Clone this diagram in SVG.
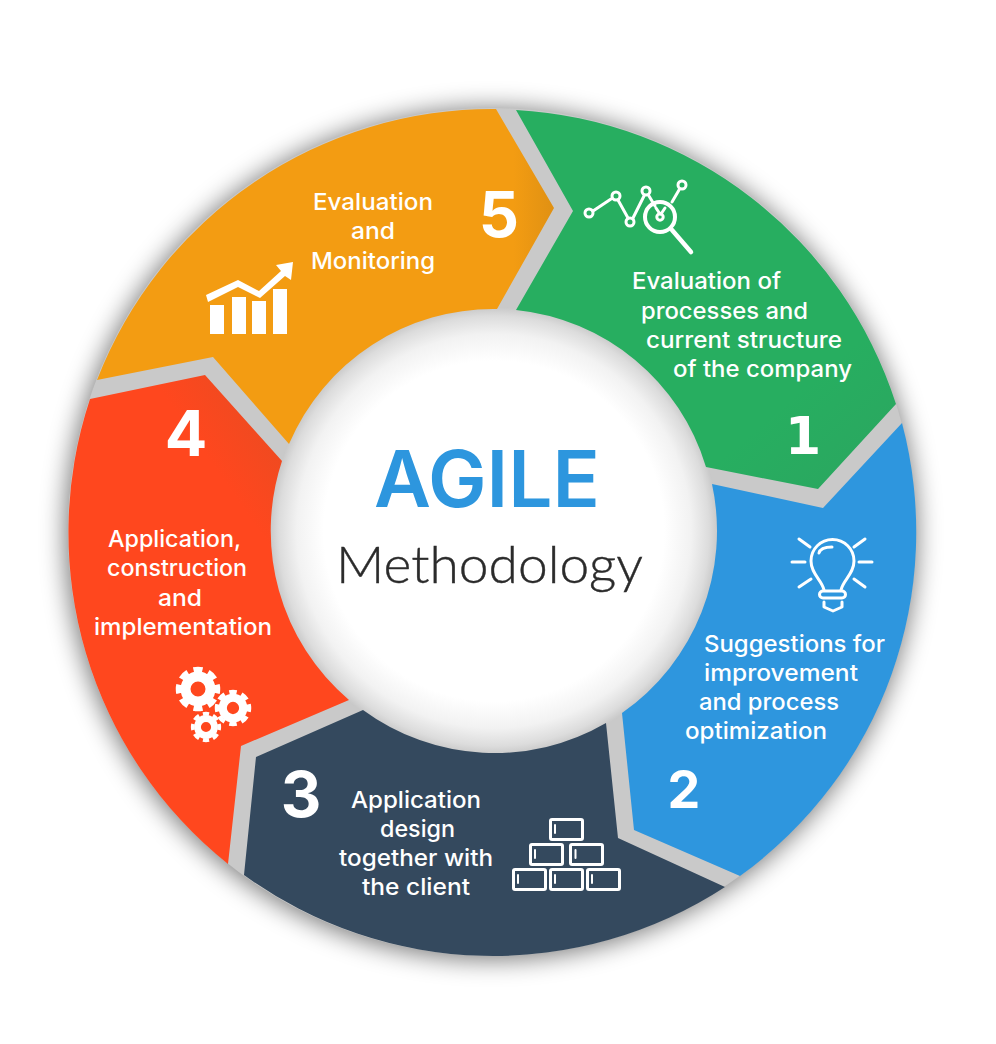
<svg xmlns="http://www.w3.org/2000/svg" xmlns:xlink="http://www.w3.org/1999/xlink" width="996" height="1044" viewBox="0 0 996 1044">
<style>
.t{font-family:"Inter","Open Sans","Liberation Sans",sans-serif;font-size:23px;font-weight:500;fill:#fff}
.n{font-family:"Inter","Liberation Sans",sans-serif;font-weight:700;fill:#fff;text-anchor:middle}
.i{fill:none;stroke:#fff;stroke-width:3;stroke-linecap:round;stroke-linejoin:round}
.b{fill:#fff}
</style>
<defs>
<filter id="sh" x="-15%" y="-15%" width="130%" height="130%"><feGaussianBlur stdDeviation="13"/></filter>
<radialGradient id="hole"><stop offset="0.76" stop-color="#fff"/><stop offset="0.88" stop-color="#f2f2f2"/><stop offset="0.96" stop-color="#dcdcdc"/><stop offset="1" stop-color="#c8c8c8"/></radialGradient>
<linearGradient id="og" gradientUnits="userSpaceOnUse" x1="450" y1="210" x2="556" y2="210"><stop offset="0" stop-color="#f39c12"/><stop offset="0.6" stop-color="#f39c12"/><stop offset="1" stop-color="#df9013"/></linearGradient>
<linearGradient id="gg" gradientUnits="userSpaceOnUse" x1="790" y1="400" x2="850" y2="470"><stop offset="0" stop-color="#27ae60"/><stop offset="1" stop-color="#2aa860"/></linearGradient>
<linearGradient id="rg" gradientUnits="userSpaceOnUse" x1="195" y1="440" x2="245" y2="405"><stop offset="0" stop-color="#ff471e"/><stop offset="1" stop-color="#f04a20"/></linearGradient>
<g id="gear"><circle r="12.5" fill="none" stroke="#fff" stroke-width="10"/><circle r="19.500" fill="none" stroke="#fff" stroke-width="5.500" pathLength="80" stroke-dasharray="6 4" stroke-dashoffset="3"/></g>
</defs>
<g id="backdrop">
<circle cx="491" cy="534" r="425" fill="#000" opacity=".55" filter="url(#sh)"/>
<circle cx="492" cy="532" r="424" fill="#c9c9c9"/>
</g>
<g id="centre">
<circle cx="494" cy="531" r="224" fill="url(#hole)"/>
<text x="374" y="507" font-family="Inter,'Liberation Sans',sans-serif" font-weight="600" font-size="78" fill="#2d96de" textLength="226" lengthAdjust="spacingAndGlyphs">AGILE</text>
<text x="336" y="583" font-family="Lato,'Liberation Sans',sans-serif" font-weight="300" font-size="51" fill="#2b2b2b" stroke="#2b2b2b" stroke-width=".4" textLength="307" lengthAdjust="spacingAndGlyphs">Methodology</text>
</g>
<g id="node-1">
<path fill="url(#gg)" d="M516 110A424 424 0 0 1 896 404L818 489L706 467A222 222 0 0 0 516 310L573 211Z"/>
<g class="i"><path d="M593 211L611 199M618 200L628 218M633 218L644 196M649 196L655 206M672 202L679 190M656 208L660 214M665 208L661 214"/><path d="M672 230L691 252" stroke-width="4.500"/><circle cx="589" cy="213" r="4"/><circle cx="616" cy="196" r="4"/><circle cx="630" cy="222" r="4"/><circle cx="646" cy="191" r="4"/><circle cx="682" cy="185" r="4"/><circle cx="660" cy="217" r="15" stroke-width="4"/><circle cx="660" cy="217" r="3.200"/></g>
<text class="t" x="632" y="289" textLength="149" lengthAdjust="spacingAndGlyphs">Evaluation of</text>
<text class="t" x="641" y="319" textLength="167" lengthAdjust="spacingAndGlyphs">processes and</text>
<text class="t" x="646" y="348" textLength="196" lengthAdjust="spacingAndGlyphs">current structure</text>
<text class="t" x="673" y="377" textLength="179" lengthAdjust="spacingAndGlyphs">of the company</text>
<text class="n" x="803" y="454" font-size="52" style="font-family:'DejaVu Sans',sans-serif">1</text>
</g>
<g id="node-2">
<path fill="#2e96de" d="M902 423A424 424 0 0 1 740 876L634 830L622 713A222 222 0 0 0 712 484L823 508Z"/>
<g class="i"><path d="M824 590C822 580 811 574 811 561A21.500 21.500 0 0 1 854 561C854 574 843 580 841 590M819 553C820 549 825 547 832 547M792 562H805M859 562H872M799 539L810 547M865 539L854 547M799 587L811 579M865 587L854 579M824 602V607L833 611L842 607V602"/><rect x="819.500" y="591" width="26" height="7" rx="3.500"/></g>
<text class="t" x="704" y="652" textLength="181" lengthAdjust="spacingAndGlyphs">Suggestions for</text>
<text class="t" x="704" y="681" textLength="154" lengthAdjust="spacingAndGlyphs">improvement</text>
<text class="t" x="699" y="710" textLength="140" lengthAdjust="spacingAndGlyphs">and process</text>
<text class="t" x="685" y="739" textLength="142" lengthAdjust="spacingAndGlyphs">optimization</text>
<text class="n" x="684" y="808" font-size="52">2</text>
</g>
<g id="node-3">
<path fill="#34495e" d="M725 887A424 424 0 0 1 244 875L256 757L363 710A222 222 0 0 0 606 723L618 838Z"/>
<g class="i"><rect x="550.500" y="819.500" width="32" height="20" rx="1.500"/><rect x="530.500" y="844.500" width="32" height="20" rx="1.500"/><rect x="570.500" y="844.500" width="32" height="20" rx="1.500"/><rect x="513.500" y="869.500" width="32" height="20" rx="1.500"/><rect x="550.500" y="869.500" width="32" height="20" rx="1.500"/><rect x="587.500" y="869.500" width="32" height="20" rx="1.500"/><path d="M555 825V833M535 850V858M575.500 850V858M518 875V883M555 875V883M592 875V883" stroke-width="2"/></g>
<text class="t" x="351" y="808" textLength="130" lengthAdjust="spacingAndGlyphs">Application</text>
<text class="t" x="380" y="837" textLength="75" lengthAdjust="spacingAndGlyphs">design</text>
<text class="t" x="339" y="866" textLength="154" lengthAdjust="spacingAndGlyphs">together with</text>
<text class="t" x="362" y="895" textLength="108" lengthAdjust="spacingAndGlyphs">the client</text>
<text class="n" x="301" y="817" font-size="63">3</text>
</g>
<g id="node-4">
<path fill="url(#rg)" d="M228 864A424 424 0 0 1 90 399L205 375L282 461A222 222 0 0 0 349 700L241 746Z"/>
<use xlink:href="#gear" href="#gear" transform="translate(198 689)"/>
<use xlink:href="#gear" href="#gear" transform="translate(233 708) scale(.82)"/>
<use xlink:href="#gear" href="#gear" transform="translate(206 727) scale(.68)"/>
<text class="t" x="108" y="547" textLength="133" lengthAdjust="spacingAndGlyphs">Application,</text>
<text class="t" x="107" y="576" textLength="140" lengthAdjust="spacingAndGlyphs">construction</text>
<text class="t" x="158" y="606" textLength="44" lengthAdjust="spacingAndGlyphs">and</text>
<text class="t" x="94" y="635" textLength="178" lengthAdjust="spacingAndGlyphs">implementation</text>
<text class="n" x="186" y="456" font-size="63">4</text>
</g>
<g id="node-5">
<path fill="url(#og)" d="M97 380A424 424 0 0 1 496 109L554 208L497 309A222 222 0 0 0 289 444L213 357Z"/>
<g class="b"><rect x="210" y="305" width="14" height="29"/><rect x="232" y="297" width="14" height="37"/><rect x="252" y="301" width="14" height="33"/><rect x="273" y="289" width="14" height="45"/><path d="M293 262L276 265L281 271L259 291L238 280L206 295L208 302L238 287L260 298L285 276L291 280Z"/></g>
<text class="t" x="313" y="210" textLength="120" lengthAdjust="spacingAndGlyphs">Evaluation</text>
<text class="t" x="351" y="239" textLength="44" lengthAdjust="spacingAndGlyphs">and</text>
<text class="t" x="311" y="269" textLength="124" lengthAdjust="spacingAndGlyphs">Monitoring</text>
<text class="n" x="499" y="237" font-size="63">5</text>
</g>
<g id="connectors"/>
</svg>
